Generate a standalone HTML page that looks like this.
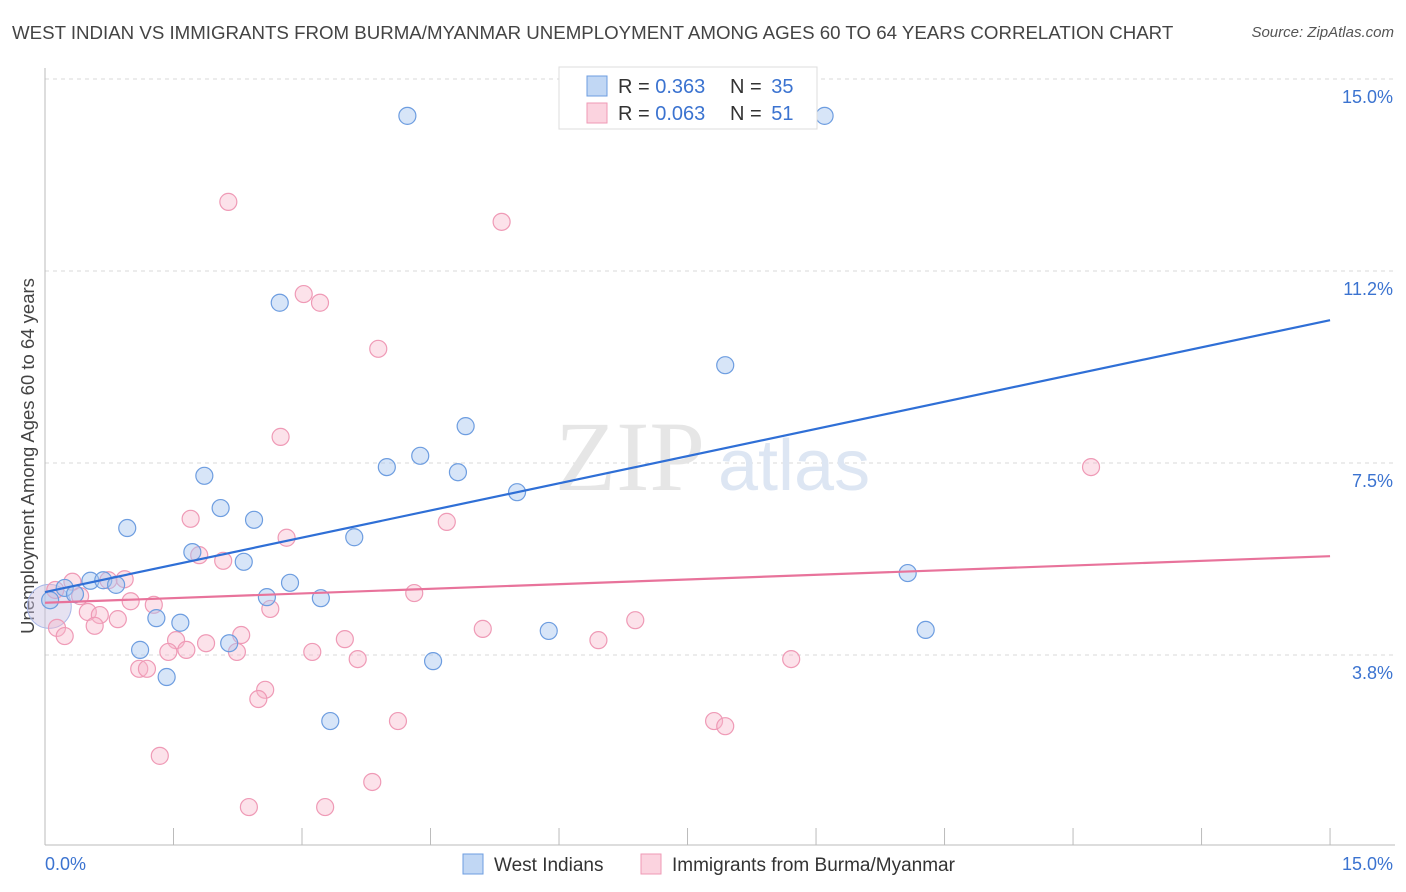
<!DOCTYPE html>
<html><head><meta charset="utf-8">
<style>
body{margin:0;background:#fff;font-family:"Liberation Sans",sans-serif;}
#wrap{position:relative;width:1406px;height:892px;overflow:hidden;}
.t{position:absolute;white-space:nowrap;}
</style></head>
<body>
<div id="wrap">
<div class="t" style="left:12px;top:22px;font-size:18.7px;color:#444;">WEST INDIAN VS IMMIGRANTS FROM BURMA/MYANMAR UNEMPLOYMENT AMONG AGES 60 TO 64 YEARS CORRELATION CHART</div>
<div class="t" style="right:12px;top:24px;font-size:15px;color:#555;font-style:italic;">Source: ZipAtlas.com</div>
<svg id="plot" width="1406" height="892" style="position:absolute;left:0;top:0"></svg>
</div>
<script>
const blueX=[4.23,9.10,2.74,7.94,4.91,4.38,3.99,4.82,1.86,5.51,2.05,2.44,0.96,3.61,1.72,2.32,0.23,0.53,0.68,0.83,0.35,2.86,2.59,3.22,1.30,1.58,1.11,2.15,5.88,4.53,1.42,3.33,10.07,10.28,0.06];
const blueY=[14.28,14.28,10.63,9.41,8.22,7.64,7.42,7.32,7.25,6.93,6.62,6.39,6.23,6.05,5.76,5.57,5.06,5.20,5.21,5.12,4.94,5.16,4.88,4.86,4.47,4.38,3.85,3.98,4.22,3.63,3.32,2.46,5.35,4.24,4.82];
const pinkX=[2.14,5.33,3.02,3.21,3.89,2.75,12.21,1.70,4.69,2.82,1.80,2.08,0.93,0.74,0.32,0.41,0.12,4.31,1.00,1.27,2.63,0.50,0.64,0.85,0.58,6.89,5.11,0.14,0.23,3.50,1.53,1.88,2.29,1.65,1.44,2.24,3.12,6.46,3.65,8.71,1.10,1.19,2.57,2.49,4.12,7.81,7.94,1.34,3.82,2.38,3.27];
const pinkY=[12.60,12.21,10.80,10.63,9.73,8.01,7.42,6.41,6.35,6.04,5.70,5.59,5.23,5.21,5.18,4.90,5.02,4.96,4.80,4.73,4.65,4.59,4.53,4.45,4.32,4.43,4.26,4.28,4.12,4.06,4.04,3.98,4.14,3.85,3.81,3.81,3.81,4.04,3.67,3.67,3.48,3.48,3.07,2.89,2.46,2.46,2.36,1.78,1.27,0.78,0.78];
const blueTrend=[4.98,10.29];
const pinkTrend=[4.77,5.68];
const yTicks=[3.8,7.5,11.2,15.0];
const yTickVals=[3.75,7.5,11.25,15];
const xTicks=[0,1.5,3,4.5,6,7.5,9,10.5,12,13.5,15];

const svg=document.getElementById('plot');
const NS='http://www.w3.org/2000/svg';
const X=v=>45+v*85.67, Y=v=>847-v*51.2;
function mk(tag,attrs,parent){const e=document.createElementNS(NS,tag);for(const k in attrs)e.setAttribute(k,attrs[k]);(parent||svg).appendChild(e);return e;}

yTickVals.forEach((v,i)=>{
 const g=mk('line',{x1:45,x2:1395,y1:Y(v),y2:Y(v),stroke:'#d8d8d8','stroke-dasharray':'4,4'});
 
 
 const t=mk('text',{x:1393,y:Y(v)+24,'text-anchor':'end','font-size':'18',fill:'#3b73d0','font-family':'Liberation Sans, sans-serif'});
 t.textContent=yTicks[i].toFixed(1)+'%';
 
 
});
let ax=mk('line',{x1:45,x2:45,y1:68,y2:845,stroke:'#bbb'});


ax=mk('line',{x1:45,x2:1395,y1:845,y2:845,stroke:'#bbb'});


xTicks.forEach(v=>{
 const l=mk('line',{x1:X(v),x2:X(v),y1:828,y2:845,stroke:'#bbb'});
 
 
});
[[0,'0.0%',45,'start'],[15,'15.0%',1393,'end']].forEach(a=>{
 const t=mk('text',{x:a[2],y:870,'text-anchor':a[3],'font-size':'18',fill:'#3b73d0','font-family':'Liberation Sans, sans-serif'});
 t.textContent=a[1];
 
 
});
let yt=mk('text',{x:0,y:0,transform:'translate(34,456) rotate(-90)','text-anchor':'middle','font-size':'18.5',fill:'#444','font-family':'Liberation Sans, sans-serif'});
yt.textContent='Unemployment Among Ages 60 to 64 years';



let wm=mk('text',{x:555,y:490,'font-size':'100',fill:'#e6e6e6','font-family':'Liberation Serif, serif'});
wm.textContent='ZIP';


wm=mk('text',{x:718,y:490,'font-size':'72',fill:'#dde6f3','font-family':'Liberation Sans, sans-serif'});
wm.textContent='atlas';



let big=mk('circle',{cx:X(0.05),cy:Y(4.7),r:22,fill:'rgba(200,190,225,0.45)',stroke:'#a9b8e8','stroke-width':1});



pinkX.forEach((v,i)=>{
 const c=mk('circle',{cx:X(v),cy:Y(pinkY[i]),r:8.5,fill:'rgba(248,182,202,0.4)',stroke:'#ef9ab6','stroke-width':1.2});
 
 
});
blueX.forEach((v,i)=>{
 const c=mk('circle',{cx:X(v),cy:Y(blueY[i]),r:8.5,fill:'rgba(166,198,240,0.45)',stroke:'#6d9de0','stroke-width':1.2});
 
 
});
let tl=mk('line',{x1:X(0),x2:X(15),y1:Y(pinkTrend[0]),y2:Y(pinkTrend[1]),stroke:'#e8739b','stroke-width':2.2});


tl=mk('line',{x1:X(0),x2:X(15),y1:Y(blueTrend[0]),y2:Y(blueTrend[1]),stroke:'#2f6fd6','stroke-width':2.2});



const lg=mk('g',{});


mk('rect',{x:559,y:67,width:258,height:62,fill:'#fff',stroke:'#ddd'},lg);
[[86,'rgba(166,198,240,0.7)','#6d9de0','0.363','35'],[113,'rgba(248,182,202,0.6)','#ef9ab6','0.063','51']].forEach(r=>{
 mk('rect',{x:587,y:r[0]-10,width:20,height:20,fill:r[1],stroke:r[2]},lg);
 const a=mk('text',{x:618,y:r[0]+7,'font-size':'20',fill:'#333','font-family':'Liberation Sans, sans-serif'},lg);
 a.innerHTML='R = <tspan fill="#3b73d0">'+r[3]+'</tspan>';
 const b=mk('text',{x:730,y:r[0]+7,'font-size':'20',fill:'#333','font-family':'Liberation Sans, sans-serif'},lg);
 b.innerHTML='N = <tspan fill="#3b73d0" dx="4">'+r[4]+'</tspan>';
});
[[463,'rgba(166,198,240,0.7)','#6d9de0','West Indians',494],[641,'rgba(248,182,202,0.6)','#ef9ab6','Immigrants from Burma/Myanmar',672]].forEach(r=>{
 const g=mk('g',{});
 
 
 mk('rect',{x:r[0],y:854,width:20,height:20,fill:r[1],stroke:r[2]},g);
 const t=mk('text',{x:r[4],y:871,'font-size':'19',fill:'#333','font-family':'Liberation Sans, sans-serif'},g);
 t.textContent=r[3];
});
</script>
</body></html>
